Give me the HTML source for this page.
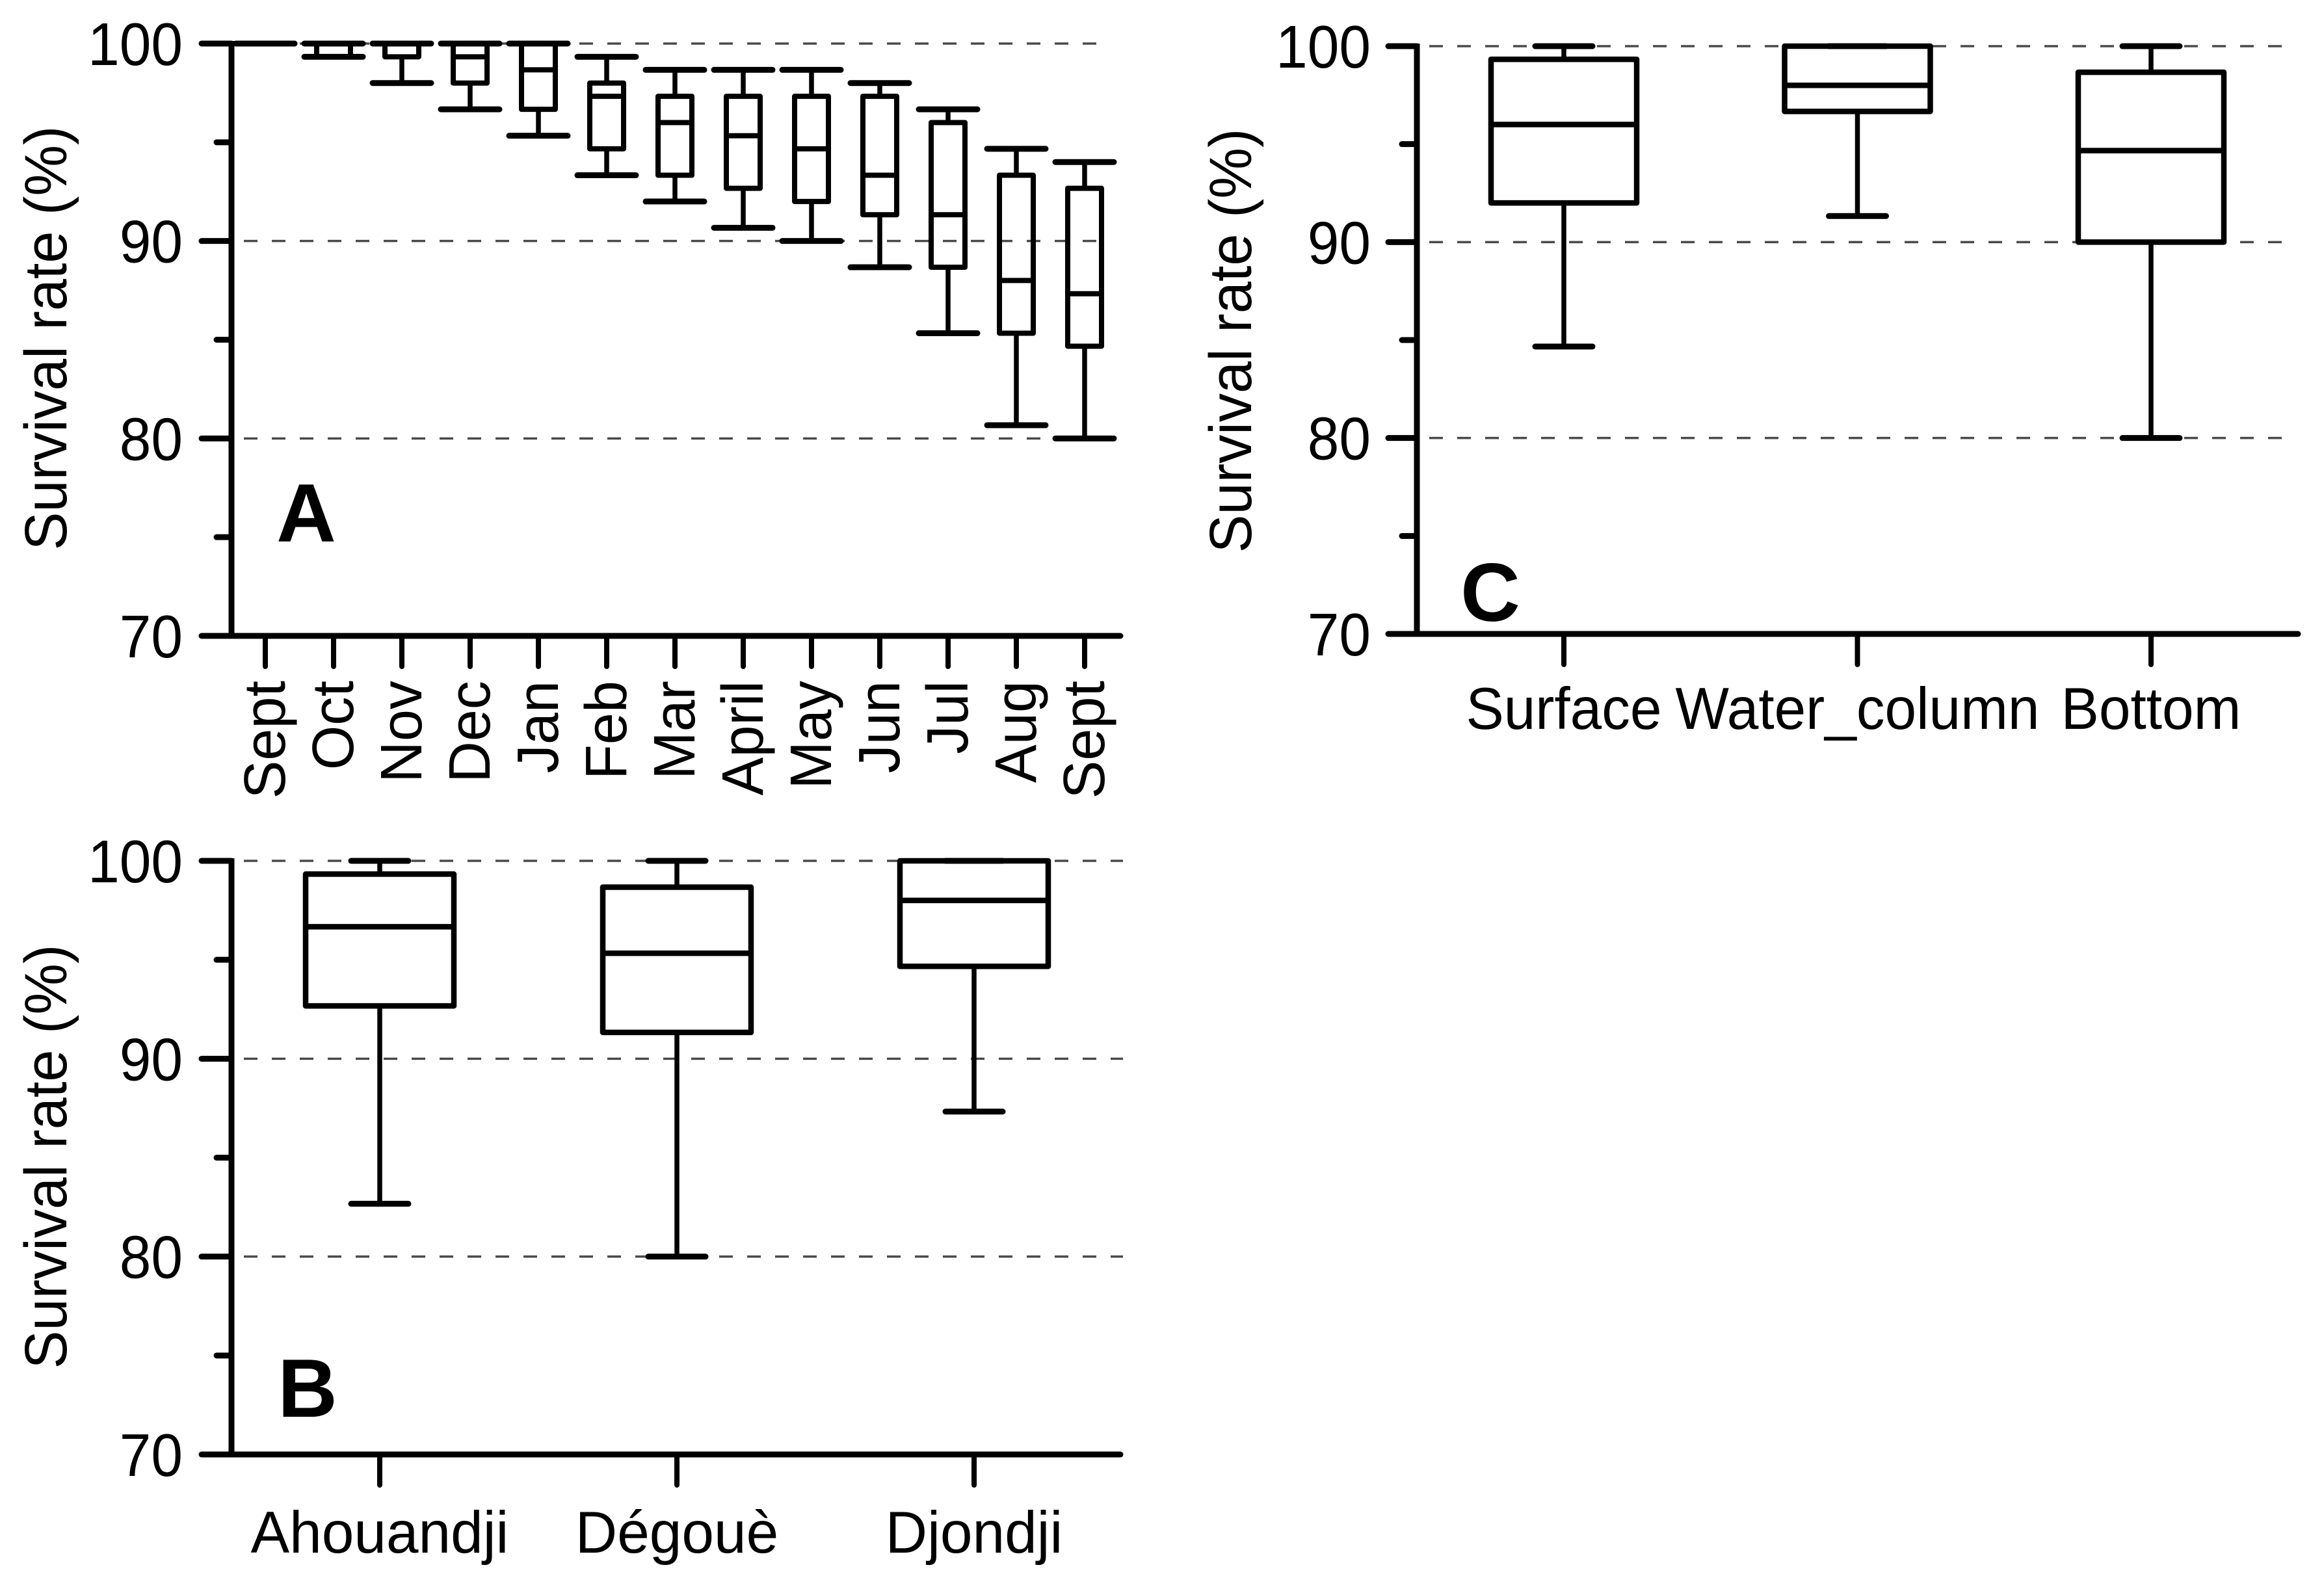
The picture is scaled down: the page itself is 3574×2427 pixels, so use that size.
<!DOCTYPE html>
<html lang="en">
<head>
<meta charset="utf-8">
<title>Survival rate box plots</title>
<style>
html,body{margin:0;padding:0;background:#fff;}
svg{display:block;}
text{font-family:"Liberation Sans",sans-serif;fill:#000;}
</style>
</head>
<body>
<svg id="figure" xmlns="http://www.w3.org/2000/svg" width="3574" height="2427" viewBox="0 0 3574 2427">
<rect width="3574" height="2427" fill="#ffffff"></rect>
</svg>
<script>
// Shared axis values
const yTickLabels = [100, 90, 80, 70];
const yMinorTicks = [95, 85, 75];
const yGridLines = [100, 90, 80];

// Panel A: month categories and box statistics
const monthCategories = ['Sept','Oct','Nov','Dec','Jan','Feb','Mar','April','May','Jun','Jul','Aug','Sept'];
const monthHigh   = [100, 100, 100, 100, 100, 99.33, 98.67, 98.67, 98.67, 98, 96.67, 94.67, 94];
const monthUpper  = [100, 100, 100, 100, 100, 98, 97.33, 97.33, 97.33, 97.33, 96, 93.33, 92.67];
const monthMedian = [100, 100, 100, 99.33, 98.67, 97.33, 96, 95.33, 94.67, 93.33, 91.33, 88, 87.33];
const monthLower  = [100, 99.33, 99.33, 98, 96.67, 94.67, 93.33, 92.67, 92, 91.33, 88.67, 85.33, 84.67];
const monthLow    = [100, 99.33, 98, 96.67, 95.33, 93.33, 92, 90.67, 90, 88.67, 85.33, 80.67, 80];

// Panel B: village categories and box statistics
const villageCategories = ['Ahouandji','Dégouè','Djondji'];
const villageHigh   = [100, 100, 100];
const villageUpper  = [99.33, 98.67, 100];
const villageMedian = [96.67, 95.33, 98];
const villageLower  = [92.67, 91.33, 94.67];
const villageLow    = [82.67, 80, 87.33];

// Panel C: depth categories and box statistics
const depthCategories = ['Surface','Water_column','Bottom'];
const depthHigh   = [100, 100, 100];
const depthUpper  = [99.33, 100, 98.67];
const depthMedian = [96, 98, 94.67];
const depthLower  = [92, 96.67, 90];
const depthLow    = [84.67, 91.33, 80];

const NS = 'http://www.w3.org/2000/svg';
const figure = document.getElementById('figure');

function line(parent, x1, y1, x2, y2, width, color, linecap) {
  const el = document.createElementNS(NS, 'line');
  el.setAttribute('x1', x1);
  el.setAttribute('y1', y1);
  el.setAttribute('x2', x2);
  el.setAttribute('y2', y2);
  el.setAttribute('stroke', color);
  el.setAttribute('stroke-width', width);
  el.setAttribute('stroke-linecap', linecap);
  parent.appendChild(el);
  return el;
}

function label(parent, str, x, y, size, anchor, weight, rotate, squeeze) {
  const el = document.createElementNS(NS, 'text');
  el.setAttribute('x', x);
  el.setAttribute('y', y);
  el.setAttribute('font-size', size);
  el.setAttribute('text-anchor', anchor);
  if (weight) el.setAttribute('font-weight', weight);
  if (rotate) el.setAttribute('transform', 'rotate(-90 ' + x + ' ' + y + ')');
  el.textContent = str;
  parent.appendChild(el);
  if (squeeze) {
    el.setAttribute('lengthAdjust', 'spacingAndGlyphs');
    el.setAttribute('textLength', el.getComputedTextLength() * squeeze);
  }
  return el;
}

function drawPanel(p) {
  const g = document.createElementNS(NS, 'g');
  
  
  figure.appendChild(g);

  const yScale = v => p.yBottom - (v - 70) * (p.yBottom - p.yTop) / 30;
  const xScale = i => p.firstX + i * p.stepX;

  // dashed reference lines
  yGridLines.forEach(v => {
    const el = line(g, p.axisX, yScale(v), p.gridEnd, yScale(v), 3.5, '#4a4a4a', 'butt');
    el.setAttribute('stroke-dasharray', '21 22');
    el.setAttribute('stroke-dashoffset', '-19');
    
    
  });

  // boxes and whiskers
  p.categories.forEach((c, i) => {
    const x = xScale(i);
    const box = document.createElementNS(NS, 'g');
    
    
    g.appendChild(box);

    line(box, x, yScale(p.high[i]), x, yScale(p.upper[i]), 7.5, '#000', 'butt');
    line(box, x, yScale(p.lower[i]), x, yScale(p.low[i]), 7.5, '#000', 'butt');
    line(box, x - p.capHalf, yScale(p.high[i]), x + p.capHalf, yScale(p.high[i]), 9, '#000', 'round');
    line(box, x - p.capHalf, yScale(p.low[i]), x + p.capHalf, yScale(p.low[i]), 9, '#000', 'round');

    const rect = document.createElementNS(NS, 'rect');
    rect.setAttribute('x', x - p.boxHalf);
    rect.setAttribute('y', yScale(p.upper[i]));
    rect.setAttribute('width', p.boxHalf * 2);
    rect.setAttribute('height', yScale(p.lower[i]) - yScale(p.upper[i]));
    rect.setAttribute('fill', 'none');
    rect.setAttribute('stroke', '#000');
    rect.setAttribute('stroke-width', p.boxStroke);
    rect.setAttribute('stroke-linejoin', 'round');
    box.appendChild(rect);

    line(box, x - p.boxHalf, yScale(p.median[i]), x + p.boxHalf, yScale(p.median[i]), p.boxStroke, '#000', 'butt');
  });

  // axes
  const yAxis = line(g, p.axisX, p.yTop - 4, p.axisX, p.yBottom, 9, '#000', 'butt');
  
  
  const xAxis = line(g, p.axisLeft + 4, p.yBottom, p.axisRight - 4, p.yBottom, 9, '#000', 'round');
  
  

  yTickLabels.forEach(v => {
    if (v !== 70) {
      const t = line(g, p.axisLeft + 4, yScale(v), p.axisX, yScale(v), 9, '#000', 'round');
      
      
    }
    const l = label(g, String(v), p.tickLabelRight, yScale(v) + 33, 93, 'end', null, false, 0.94);
    
    
  });
  yMinorTicks.forEach(v => {
    const t = line(g, p.axisX - 23, yScale(v), p.axisX, yScale(v), 9, '#000', 'round');
    
    
  });

  p.categories.forEach((c, i) => {
    const x = xScale(i);
    const t = line(g, x, p.yBottom, x, p.yBottom + 47, 8, '#000', 'round');
    
    
    const l = p.rotateLabels
      ? label(g, c, x + 30, p.labelY, 90, 'end', null, true, 0.98)
      : label(g, c, x, p.labelY, 91, 'middle', null, false, p.labelSqueeze);
    
    
  });

  const title = label(g, 'Survival rate (%)', p.titleX, p.titleY, 92, 'middle', null, true, 0.96);
  
  

  const letter = label(g, p.letter, p.letterX, p.letterY, 127, 'middle', 'bold');
  
  
}

drawPanel({
  letter: 'A', categories: monthCategories,
  high: monthHigh, upper: monthUpper, median: monthMedian, lower: monthLower, low: monthLow,
  axisX: 356, axisLeft: 306, axisRight: 1727, gridEnd: 1701, yTop: 67, yBottom: 978,
  firstX: 408, stepX: 105, capHalf: 45, boxHalf: 26, boxStroke: 8,
  tickLabelRight: 281, labelY: 1047, rotateLabels: true,
  titleX: 102, titleY: 520, letterX: 471, letterY: 833
});

drawPanel({
  letter: 'B', categories: villageCategories,
  high: villageHigh, upper: villageUpper, median: villageMedian, lower: villageLower, low: villageLow,
  axisX: 356, axisLeft: 306, axisRight: 1727, gridEnd: 1727, yTop: 1324, yBottom: 2237,
  firstX: 584, stepX: 457, capHalf: 44, boxHalf: 114, boxStroke: 8.5,
  tickLabelRight: 281, labelY: 2388, rotateLabels: false, labelSqueeze: 0.98,
  titleX: 102, titleY: 1779, letterX: 473, letterY: 2179
});

drawPanel({
  letter: 'C', categories: depthCategories,
  high: depthHigh, upper: depthUpper, median: depthMedian, lower: depthLower, low: depthLow,
  axisX: 2179, axisLeft: 2131, axisRight: 3538, gridEnd: 3514, yTop: 71, yBottom: 975,
  firstX: 2405, stepX: 451.5, capHalf: 44, boxHalf: 112, boxStroke: 8.5,
  tickLabelRight: 2108, labelY: 1121, rotateLabels: false, labelSqueeze: 0.96,
  titleX: 1924, titleY: 524, letterX: 2292, letterY: 955
});
</script>
</body>
</html>
